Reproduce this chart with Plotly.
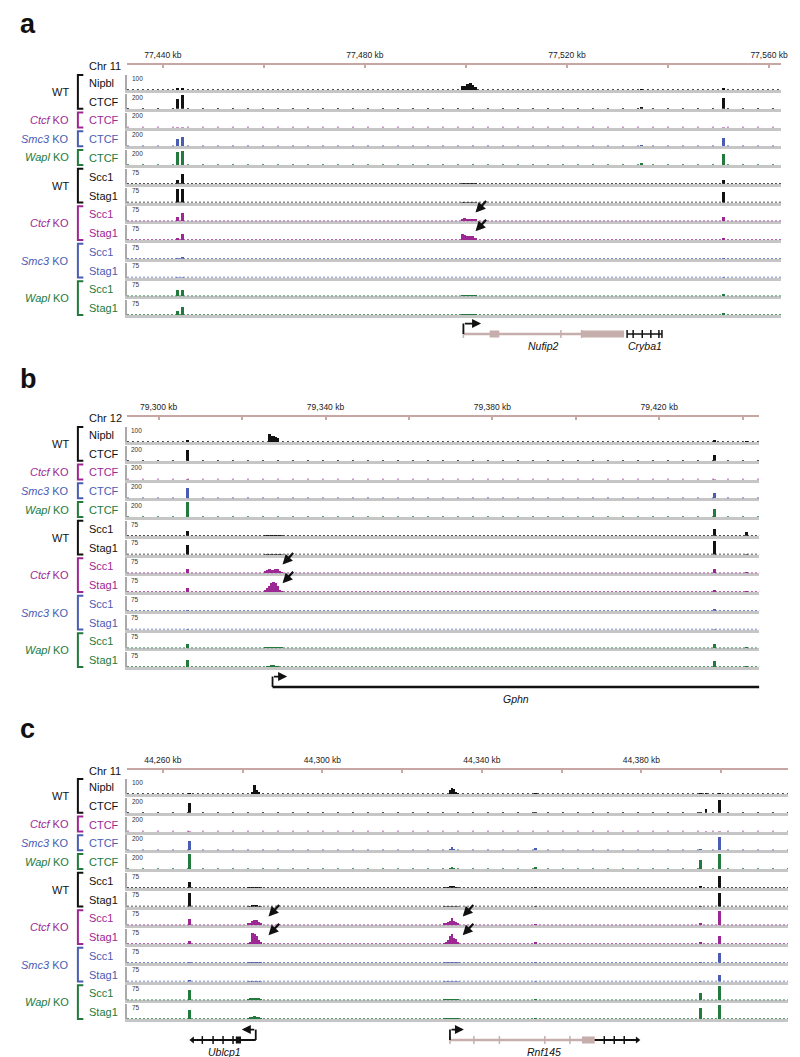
import plotly.graph_objects as go

W, H = 800, 1057
FONT = "Liberation Sans, Arial, Helvetica, sans-serif"

# ---- track definitions (same for all three panels) ----
TRACK_NAMES = ["Nipbl", "CTCF", "CTCF", "CTCF", "CTCF", "Scc1", "Stag1",
               "Scc1", "Stag1", "Scc1", "Stag1", "Scc1", "Stag1"]
TRACK_GROUPS = ["WT", "WT", "Ctcf", "Smc3", "Wapl", "WT", "WT",
                "Ctcf", "Ctcf", "Smc3", "Smc3", "Wapl", "Wapl"]
TRACK_SCALES = [100, 200, 200, 200, 200, 75, 75, 75, 75, 75, 75, 75, 75]
BRACKETS = [(0, 1, "WT"), (2, 2, "Ctcf"), (3, 3, "Smc3"), (4, 4, "Wapl"),
            (5, 6, "WT"), (7, 8, "Ctcf"), (9, 10, "Smc3"), (11, 12, "Wapl")]
GROUP_LABELS = {"WT": "WT", "Ctcf": "<i>Ctcf</i> KO",
                "Smc3": "<i>Smc3</i> KO", "Wapl": "<i>Wapl</i> KO"}
GROUP_COLORS = {"WT": "#111111", "Ctcf": "#9d2894",
                "Smc3": "#4b5cb3", "Wapl": "#227a3c"}

# ---- panel a : Chr 11, Nufip2 ----
A_RANGE = [77432.9, 77562.4]
A_TICKS = [77440, 77460, 77480, 77500, 77520, 77540, 77560]
A_LABELED = [77440, 77480, 77520, 77560]
A_SITES = [77442.9, 77443.9, 77499.3, 77499.8, 77500.3, 77500.8, 77501.3,
           77501.8, 77534.8, 77550.9]
A_HEIGHTS = [
    [12, 8, 25, 30, 40, 50, 35, 20, 5, 10],
    [140, 190, 0, 0, 0, 0, 0, 0, 25, 150],
    [6, 6, 0, 0, 0, 0, 0, 0, 0, 5],
    [90, 115, 0, 0, 0, 0, 0, 0, 10, 110],
    [170, 185, 0, 0, 0, 0, 0, 0, 15, 150],
    [18, 48, 4, 4, 5, 4, 4, 3, 0, 18],
    [72, 72, 3, 3, 4, 3, 3, 2, 0, 55],
    [18, 38, 10, 14, 12, 12, 10, 6, 0, 22],
    [6, 28, 28, 24, 22, 20, 18, 10, 0, 6],
    [2, 8, 0, 0, 0, 0, 0, 0, 0, 2],
    [1, 3, 0, 0, 0, 0, 0, 0, 0, 1],
    [32, 28, 3, 3, 3, 3, 2, 2, 0, 10],
    [18, 42, 2, 2, 2, 2, 2, 1, 0, 12],
]
A_ARROWS = [(7, 77501.9), (8, 77501.9)]
A_NUFIP2 = [77499.5, 77531.3]
A_NUFIP2_BOXES = [[77504.7, 77506.6], [77522.9, 77531.3]]
A_NUFIP2_TICKS = [77499.5, 77518.8, 77522.9]
A_CRYBA1 = [77531.9, 77538.8]
A_CRYBA1_TICKS = [77531.9, 77533.1, 77534.9, 77536.6, 77538.2, 77538.8]

# ---- panel b : Chr 12, Gphn ----
B_RANGE = [79292.4, 79444.0]
B_TICKS = [79300, 79320, 79340, 79360, 79380, 79400, 79420, 79440]
B_LABELED = [79300, 79340, 79380, 79420]
B_SITES = [79306.9, 79325.5, 79326.0, 79326.5, 79327.0, 79327.5, 79328.0,
           79328.5, 79329.0, 79329.5, 79433.3, 79440.9]
B_HEIGHTS = [
    [8, 0, 0, 55, 40, 38, 35, 25, 0, 0, 12, 6],
    [150, 0, 0, 0, 0, 0, 0, 0, 0, 0, 85, 0],
    [5, 0, 0, 0, 0, 0, 0, 0, 0, 0, 5, 0],
    [140, 0, 0, 0, 0, 0, 0, 0, 0, 0, 70, 0],
    [195, 0, 0, 0, 0, 0, 0, 0, 0, 0, 110, 0],
    [23, 3, 3, 4, 4, 4, 3, 3, 2, 2, 33, 18],
    [52, 3, 4, 4, 5, 5, 4, 3, 3, 2, 70, 4],
    [22, 10, 16, 18, 16, 14, 20, 22, 8, 4, 22, 3],
    [18, 12, 20, 32, 44, 50, 46, 30, 10, 4, 6, 3],
    [2, 0, 0, 0, 0, 0, 0, 0, 0, 0, 8, 0],
    [1, 0, 0, 0, 0, 0, 0, 0, 0, 0, 2, 0],
    [22, 2, 2, 3, 3, 3, 2, 2, 2, 1, 18, 2],
    [36, 0, 2, 4, 8, 6, 4, 2, 0, 0, 30, 2],
]
B_ARROWS = [(7, 79329.7), (8, 79329.7)]
B_GPHN = [79327.3, 79444.0]

# ---- panel c : Chr 11, Ublcp1 / Rnf145 ----
C_RANGE = [44251.0, 44416.8]
C_TICKS = [44260, 44280, 44300, 44320, 44340, 44360, 44380, 44400]
C_LABELED = [44260, 44300, 44340, 44380]
C_SITES = [44266.6, 44281.5, 44282.0, 44282.5, 44283.0, 44283.5, 44284.0,
           44284.5, 44330.5, 44331.0, 44331.5, 44332.0, 44332.5, 44333.0,
           44333.5, 44334.0, 44353.4, 44394.9, 44396.2, 44399.6]
C_HEIGHTS = [
    [6, 0, 0, 10, 60, 30, 8, 0, 0, 0, 0, 30, 38, 36, 14, 6, 4, 4, 4, 6],
    [130, 0, 0, 0, 0, 0, 0, 0, 0, 0, 0, 0, 0, 0, 0, 0, 6, 6, 50, 170],
    [4, 0, 0, 0, 0, 0, 0, 0, 0, 0, 0, 0, 0, 0, 0, 0, 0, 0, 3, 10],
    [125, 0, 0, 0, 0, 0, 0, 0, 0, 0, 0, 10, 35, 10, 0, 0, 30, 10, 0, 175],
    [195, 0, 0, 0, 0, 0, 0, 0, 0, 0, 0, 8, 20, 8, 0, 0, 20, 115, 0, 195],
    [28, 2, 2, 3, 4, 3, 2, 2, 2, 3, 4, 6, 10, 6, 3, 2, 3, 6, 0, 62],
    [70, 3, 4, 6, 8, 6, 4, 2, 2, 2, 3, 4, 5, 4, 3, 2, 3, 5, 0, 70],
    [32, 6, 10, 18, 26, 24, 16, 6, 6, 10, 14, 18, 33, 22, 16, 8, 5, 6, 0, 72],
    [14, 4, 12, 53, 50, 42, 18, 6, 4, 8, 22, 40, 48, 30, 26, 10, 6, 6, 0, 40],
    [3, 1, 1, 1, 1, 1, 1, 1, 1, 1, 1, 1, 1, 1, 1, 1, 1, 2, 0, 52],
    [6, 1, 1, 1, 1, 1, 1, 1, 1, 1, 1, 1, 1, 1, 1, 1, 1, 2, 0, 35],
    [52, 4, 6, 10, 12, 10, 6, 4, 2, 2, 3, 4, 5, 3, 2, 2, 3, 35, 0, 68],
    [46, 4, 8, 12, 14, 10, 6, 2, 1, 1, 2, 2, 3, 2, 1, 1, 2, 54, 0, 72],
]
C_ARROWS = [(7, 44286.5), (8, 44286.5), (7, 44335.2), (8, 44335.2)]
C_UBLCP1 = [44267.4, 44283.3]
C_UBLCP1_BOXES = [[44278.3, 44279.6]]
C_UBLCP1_TICKS = [44269.9, 44272.6, 44275.1, 44277.6]
C_RNF145 = [44332.0, 44368.3]
C_RNF145_BOXES = [[44365.1, 44368.3]]
C_RNF145_TICKS = [44332.0, 44338.0, 44344.4, 44355.8, 44362.1]
C_RNF145_TAIL = [44368.3, 44379.0]
C_RNF145_TAIL_TICKS = [44370.7, 44373.2, 44375.7]

# ---- page geometry (pixels) ----
PITCH = 18.75
TRACK_H = 15
X_LEFT = 120
RULER_COLOR = "#c8a6a3"
GENE_PINK = "#c5aeab"
BASE_GRAY = "#c6c6c6"
AXIS_GRAY = "#aaaaaa"

PANELS = [
    dict(letter="a", chrom="Chr 11", letter_y=16, ruler_y=57, base0=82,
         x_end=780, gene_y=326, rng=A_RANGE, ticks=A_TICKS, labeled=A_LABELED,
         sites=A_SITES, heights=A_HEIGHTS, arrows=A_ARROWS, bw=0.6),
    dict(letter="b", chrom="Chr 12", letter_y=371, ruler_y=409, base0=434,
         x_end=758, gene_y=679, rng=B_RANGE, ticks=B_TICKS, labeled=B_LABELED,
         sites=B_SITES, heights=B_HEIGHTS, arrows=B_ARROWS, bw=0.7),
    dict(letter="c", chrom="Chr 11", letter_y=721, ruler_y=762, base0=786,
         x_end=787, gene_y=1032, rng=C_RANGE, ticks=C_TICKS, labeled=C_LABELED,
         sites=C_SITES, heights=C_HEIGHTS, arrows=C_ARROWS, bw=0.7),
]

fig = go.Figure()
layout = {}
annotations = []
shapes = []
counter = [0]


def new_axes():
    counter[0] += 1
    return counter[0]


def xr(k):
    return "x" if k == 1 else f"x{k}"


def yr(k):
    return "y" if k == 1 else f"y{k}"


def px(x):
    return x / W


def py(y):
    return 1 - y / H


def dash_for(name):
    if name == "CTCF":
        return "2px,13px"
    if name == "Nipbl":
        return "2px,3px"
    return "2px,2px"


def draw_gene(k, span, color, width, ticks=(), boxes=(), tss=None,
              strand=1, arrow_len=3.5, label=None, end_marker=None):
    shapes.append(dict(type="line", xref=xr(k), yref=yr(k), x0=span[0],
                       x1=span[1], y0=0, y1=0,
                       line=dict(color=color, width=width)))
    for t in ticks:
        shapes.append(dict(type="line", xref=xr(k), yref=yr(k), x0=t, x1=t,
                           y0=-0.3, y1=0.3,
                           line=dict(color=color, width=1.5)))
    for b in boxes:
        shapes.append(dict(type="rect", xref=xr(k), yref=yr(k), x0=b[0],
                           x1=b[1], y0=-0.27, y1=0.27, fillcolor=color,
                           line=dict(width=0)))
    if tss is not None:
        shapes.append(dict(type="line", xref=xr(k), yref=yr(k), x0=tss,
                           x1=tss, y0=0, y1=0.8,
                           line=dict(color="#111111", width=1.8)))
        annotations.append(dict(xref=xr(k), yref=yr(k), axref=xr(k),
                                ayref=yr(k), x=tss + strand * arrow_len,
                                y=0.8, ax=tss, ay=0.8, text="",
                                showarrow=True, arrowhead=2, arrowsize=1,
                                arrowwidth=1.8, arrowcolor="#111111"))
    if end_marker is not None:
        fig.add_trace(go.Scatter(
            x=[span[0] if end_marker == "left" else span[1]], y=[0],
            mode="markers", xaxis=xr(k), yaxis=yr(k), hoverinfo="skip",
            marker=dict(symbol="triangle-" + end_marker, size=6,
                        color=color), cliponaxis=False))
    if label:
        annotations.append(dict(xref=xr(k), yref=yr(k),
                                x=(span[0] + span[1]) / 2, y=-0.3,
                                yanchor="top", text=f"<i>{label}</i>",
                                showarrow=False,
                                font=dict(size=10.5, color="#111111")))


gene_axes = []
for P in PANELS:
    rng = P["rng"]
    x0p, x1p = px(X_LEFT), px(P["x_end"])

    # panel letter and chromosome label
    annotations.append(dict(xref="paper", yref="paper", x=px(10),
                            y=py(P["letter_y"]), xanchor="left",
                            yanchor="middle", text=f"<b>{P['letter']}</b>",
                            showarrow=False,
                            font=dict(size=27, color="#111111")))
    annotations.append(dict(xref="paper", yref="paper", x=px(80),
                            y=py(P["ruler_y"] + 1), xanchor="left",
                            yanchor="middle", text=P["chrom"],
                            showarrow=False,
                            font=dict(size=11, color="#111111")))

    # ruler
    k = new_axes()
    layout["xaxis" if k == 1 else f"xaxis{k}"] = dict(
        domain=[x0p, x1p], range=rng, anchor=yr(k), side="top",
        showline=True, linecolor=RULER_COLOR, linewidth=2, ticks="inside",
        ticklen=3, tickwidth=1.5, tickcolor=RULER_COLOR,
        tickvals=P["ticks"], ticklabelstandoff=2,
        ticktext=[f"{t:,} kb" if t in P["labeled"] else "" for t in P["ticks"]],
        tickfont=dict(size=8.5, color="#222222"), showgrid=False,
        zeroline=False)
    layout["yaxis" if k == 1 else f"yaxis{k}"] = dict(
        domain=[py(P["ruler_y"] + 2), py(P["ruler_y"])], range=[0, 1],
        anchor=xr(k), visible=False)
    fig.add_trace(go.Scatter(x=P["ticks"], y=[0.5] * len(P["ticks"]),
                             mode="markers", marker=dict(opacity=0),
                             xaxis=xr(k), yaxis=yr(k), hoverinfo="skip"))

    # signal tracks
    track_axes = []
    for t, name in enumerate(TRACK_NAMES):
        k = new_axes()
        track_axes.append(k)
        yb = P["base0"] + t * PITCH
        col = GROUP_COLORS[TRACK_GROUPS[t]]
        layout[f"xaxis{k}"] = dict(
            domain=[x0p, x1p], range=rng, anchor=yr(k), showline=True,
            linecolor=BASE_GRAY, linewidth=2.5, showticklabels=False,
            ticks="", showgrid=False, zeroline=False, layer="below traces")
        layout[f"yaxis{k}"] = dict(
            domain=[py(yb), py(yb - TRACK_H)], range=[0, TRACK_SCALES[t]],
            anchor=xr(k), showline=True, linecolor=AXIS_GRAY, linewidth=1.5,
            showticklabels=False, ticks="", showgrid=False, zeroline=False,
            layer="below traces")
        fig.add_trace(go.Scatter(
            x=rng, y=[0, 0], mode="lines", xaxis=xr(k), yaxis=yr(k),
            line=dict(color=col, width=1.6, dash=dash_for(name)),
            cliponaxis=False, hoverinfo="skip"))
        fig.add_trace(go.Bar(
            x=P["sites"], y=P["heights"][t], width=P["bw"], xaxis=xr(k),
            yaxis=yr(k), marker=dict(color=col, line=dict(width=0)),
            hoverinfo="skip"))
        annotations.append(dict(
            xref=f"{xr(k)} domain", yref=f"{yr(k)} domain", x=0.004, y=1.15,
            xanchor="left", yanchor="top", text=str(TRACK_SCALES[t]),
            showarrow=False, font=dict(size=6.5, color="#333333")))
        annotations.append(dict(
            xref="paper", yref="paper", x=px(80), y=py(yb - 7),
            xanchor="left", yanchor="middle", text=name, showarrow=False,
            font=dict(size=11, color=col)))

    # group brackets and labels
    for first, last, grp in BRACKETS:
        col = GROUP_COLORS[grp]
        ytop = P["base0"] + first * PITCH - TRACK_H
        ybot = P["base0"] + last * PITCH
        shapes.append(dict(
            type="path", xref="paper", yref="paper",
            path=(f"M {px(76)},{py(ytop)} L {px(70.5)},{py(ytop)} "
                  f"L {px(70.5)},{py(ybot)} L {px(76)},{py(ybot)}"),
            line=dict(color=col, width=2)))
        annotations.append(dict(
            xref="paper", yref="paper", x=px(64), y=py((ytop + ybot) / 2),
            xanchor="right", yanchor="middle", text=GROUP_LABELS[grp],
            showarrow=False, font=dict(size=11, color=col)))

    # arrows pointing at ectopic cohesin peaks
    for t, kb in P["arrows"]:
        k = track_axes[t]
        annotations.append(dict(
            xref=xr(k), yref=f"{yr(k)} domain", x=kb, y=0.58, ax=12, ay=-13,
            text="", showarrow=True, arrowhead=2, arrowsize=0.9,
            arrowwidth=2.2, arrowcolor="#111111"))

    # gene annotation row
    k = new_axes()
    gene_axes.append(k)
    layout[f"xaxis{k}"] = dict(domain=[x0p, x1p], range=rng, anchor=yr(k),
                               visible=False)
    layout[f"yaxis{k}"] = dict(domain=[py(P["gene_y"] + 13),
                                       py(P["gene_y"] - 13)],
                               range=[-1, 1], anchor=xr(k), visible=False)
    fig.add_trace(go.Scatter(x=rng, y=[0, 0], mode="markers",
                             marker=dict(opacity=0), xaxis=xr(k),
                             yaxis=yr(k), hoverinfo="skip"))

ga, gb, gc = gene_axes
draw_gene(ga, A_NUFIP2, GENE_PINK, 2.5, ticks=A_NUFIP2_TICKS,
          boxes=A_NUFIP2_BOXES, tss=A_NUFIP2[0], strand=1, label="Nufip2")
draw_gene(ga, A_CRYBA1, "#111111", 1.5, ticks=A_CRYBA1_TICKS, label="Cryba1")
draw_gene(gb, B_GPHN, "#111111", 2.5, tss=B_GPHN[0], strand=1,
          label="Gphn")
draw_gene(gc, C_UBLCP1, "#111111", 2, ticks=C_UBLCP1_TICKS,
          boxes=C_UBLCP1_BOXES, tss=C_UBLCP1[1], strand=-1, label="Ublcp1",
          end_marker="left")
draw_gene(gc, C_RNF145, GENE_PINK, 2.5, ticks=C_RNF145_TICKS,
          boxes=C_RNF145_BOXES, tss=C_RNF145[0], strand=1)
draw_gene(gc, C_RNF145_TAIL, "#111111", 2, ticks=C_RNF145_TAIL_TICKS,
          end_marker="right")
annotations.append(dict(xref=xr(gc), yref=yr(gc),
                        x=(C_RNF145[0] + C_RNF145_TAIL[1]) / 2, y=-0.3,
                        yanchor="top", text="<i>Rnf145</i>", showarrow=False,
                        font=dict(size=10.5, color="#111111")))

fig.update_layout(
    width=W, height=H, margin=dict(l=0, r=0, t=0, b=0),
    paper_bgcolor="white", plot_bgcolor="rgba(0,0,0,0)",
    showlegend=False, barmode="overlay", bargap=0,
    font=dict(family=FONT, color="#111111"),
    annotations=annotations, shapes=shapes, **layout)

fig.write_html("out.html")
